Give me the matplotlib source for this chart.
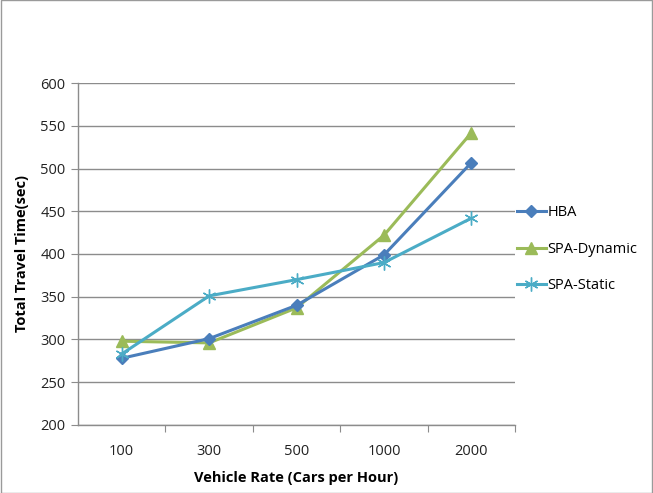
import matplotlib.pyplot as plt
from matplotlib.patches import Rectangle

rates = ["100", "300", "500", "1000", "2000"]
hba = [278, 301, 340, 399, 507]
spa_dynamic = [298, 296, 337, 422, 542]
spa_static = [283, 351, 370, 390, 442]

plt.rcParams["font.family"] = ["Open Sans", "DejaVu Sans"]

fig = plt.figure(figsize=(6.53, 4.93), dpi=100)
ax = fig.add_axes([0.1194, 0.138, 0.6696, 0.6936])

x = range(len(rates))
ax.plot(x, hba, color="#4A7EBB", lw=2.2, marker="D", ms=6.5, label="HBA", zorder=4)
ax.plot(x, spa_dynamic, color="#9BBB59", lw=2.2, marker="^", ms=8.5, label="SPA-Dynamic", zorder=3)
ax.plot(x, spa_static, color="#4BACC6", lw=2.2, marker=(6, 2, 0), ms=10, mew=1.0,
        label="SPA-Static", zorder=5)

ax.set_ylim(200, 600)
ax.set_yticks(range(200, 601, 50))
ax.yaxis.grid(True, color="#8C8C8C", lw=1.0)
ax.set_axisbelow(True)

# category labels sit between the boundary ticks
ax.set_xlim(-0.5, len(rates) - 0.5)
ax.set_xticks([i + 0.5 for i in range(len(rates))])
ax.set_xticklabels([])
ax.set_xticks(list(x), minor=True)
ax.set_xticklabels(rates, minor=True)
ax.tick_params(axis="x", which="major", length=5, color="#8C8C8C", direction="out")
ax.tick_params(axis="x", which="minor", length=0, pad=14, labelsize=10.5, labelcolor="#222222")
ax.tick_params(axis="y", length=5, color="#8C8C8C", labelsize=10.5, labelcolor="#222222", pad=4)

for side in ["top", "right"]:
    ax.spines[side].set_visible(False)
for side in ["left", "bottom"]:
    ax.spines[side].set_color("#8C8C8C")
    ax.spines[side].set_linewidth(1.0)

ax.set_xlabel("Vehicle Rate (Cars per Hour)", fontsize=10.5, fontweight="bold", labelpad=8)
ax.set_ylabel("Total Travel Time(sec)", fontsize=10.5, fontweight="bold", labelpad=8)

ax.legend(loc="center left", bbox_to_anchor=(0.99, 0.514), frameon=False, fontsize=10.5,
          handlelength=2.0, handletextpad=0.1, labelspacing=1.48, borderaxespad=0)

fig.add_artist(Rectangle((0.001, 0.001), 0.998, 0.998, transform=fig.transFigure,
                         fill=False, edgecolor="#9A9A9A", lw=1.0))

fig.savefig("out.png", dpi=100)
